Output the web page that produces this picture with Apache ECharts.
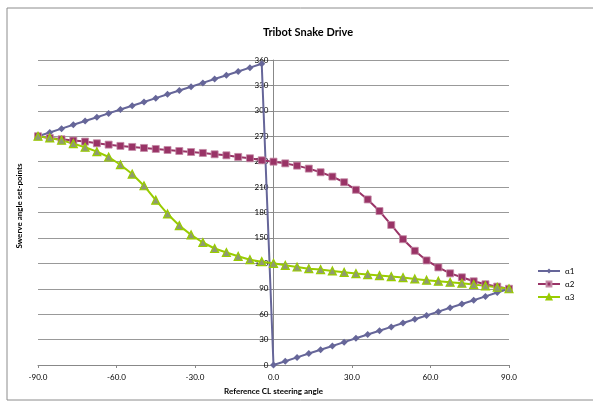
<!DOCTYPE html>
<html>
<head>
<meta charset="utf-8">
<script src="https://cdn.jsdelivr.net/npm/echarts@6/dist/echarts.min.js"></script>
<style>html,body{margin:0;padding:0;background:#fff;}#c{width:593px;height:404px;}</style>
</head>
<body>
<div id="c"></div>
<script>
var xs = [-90,-85.5,-81,-76.5,-72,-67.5,-63,-58.5,-54,-49.5,-45,-40.5,-36,-31.5,-27,-22.5,-18,-13.5,-9,-4.5,0,4.5,9,13.5,18,22.5,27,31.5,36,40.5,45,49.5,54,58.5,63,67.5,72,76.5,81,85.5,90];
var alpha1 = [270,274.5,279,283.5,288,292.5,297,301.5,306,310.5,315,319.5,324,328.5,333,337.5,342,346.5,351,355.5,0,4.5,9,13.5,18,22.5,27,31.5,36,40.5,45,49.5,54,58.5,63,67.5,72,76.5,81,85.5,90];
var alpha2 = [270,268,266.4,264.9,263.7,261.7,260.1,258.6,257.4,256.2,255,253.8,252.6,251.4,250.3,248.7,247.5,245.6,244,241.6,240,238,235.3,231.8,227.5,222.4,215.7,206.8,195.4,181.7,165.3,148.5,134.8,123.4,115.2,108.2,103.5,98.8,95.3,92.5,90];
var alpha3 = [270,268,265.3,261.3,257,251.8,245.5,236.4,225.4,211.6,194.6,178.3,164.6,153.6,144.6,137.5,132.8,128.3,124.3,122,120,117.7,115.7,113.7,112.6,111,109.4,107.9,106.7,105.5,104.4,103.2,101.6,100.1,98.9,97.7,96.5,95,93.4,91.8,90];
var seriesNames = ['α1','α2','α3'];
var title = 'Tribot Snake Drive';
var xName = 'Reference CL steering angle';
var yName = 'Swerve angle set-points';

function pairs(v){ return xs.map(function(x,i){ return [x, v[i]]; }); }
var font = 'Lato, "Open Sans", sans-serif';
var chart = echarts.init(document.getElementById('c'));
chart.setOption({
  animation: false,
  backgroundColor: '#fff',
  title: { text: title, left: 303, top: 22, textAlign: 'center',
    textStyle: { fontFamily: font, fontSize: 11, fontWeight: 'bold', color: '#000' } },
  graphic: [
    { type: 'rect', shape: { x: 7, y: 8, width: 620, height: 392 },
      style: { fill: 'none', stroke: '#8c8c8c', lineWidth: 1 }, silent: true },
    { type: 'text', x: 19, y: 206, rotation: Math.PI/2,
      style: { text: yName, fill: '#000', font: 'bold 8px ' + font, textAlign: 'center', textVerticalAlign: 'middle' } }
  ],
  legend: {
    orient: 'vertical', left: 532, top: 262, itemWidth: 22, itemHeight: 6, itemGap: 5,
    textStyle: { fontFamily: font, fontSize: 8, color: '#000' },
    data: seriesNames
  },
  grid: { left: 38, right: 84, top: 60, bottom: 39 },
  xAxis: {
    type: 'value', min: -90, max: 90, interval: 30,
    name: xName, nameLocation: 'middle', nameGap: 22,
    nameTextStyle: { fontFamily: font, fontSize: 8, fontWeight: 'bold', color: '#000' },
    axisLine: { onZero: false, lineStyle: { color: '#888', width: 1 } },
    axisTick: { show: true, length: 3, lineStyle: { color: '#888' } },
    axisLabel: { fontFamily: font, fontSize: 8, color: '#000', margin: 8,
      formatter: function(v){ return v.toFixed(1); } },
    splitLine: { show: false }
  },
  yAxis: {
    type: 'value', min: 0, max: 360, interval: 30, position: 'left', offset: -235.5,
    axisLine: { onZero: false, lineStyle: { color: '#888', width: 1 } },
    axisTick: { show: true, length: 3, lineStyle: { color: '#888' } },
    axisLabel: { fontFamily: font, fontSize: 8, color: '#000', margin: 5 },
    splitLine: { show: true, lineStyle: { color: '#999', width: 1 } }
  },
  series: [
    { name: seriesNames[0], type: 'line', data: pairs(alpha1), symbol: 'diamond', symbolSize: 7,
      lineStyle: { color: '#666699', width: 2 }, itemStyle: { color: '#666699' } },
    { name: seriesNames[1], type: 'line', data: pairs(alpha2), symbol: 'rect', symbolSize: 7,
      lineStyle: { color: '#993366', width: 2 }, itemStyle: { color: '#993366', borderColor: '#c48aa6', borderWidth: 0.8 } },
    { name: seriesNames[2], type: 'line', data: pairs(alpha3), symbol: 'triangle', symbolSize: 8,
      lineStyle: { color: '#99CC00', width: 2 }, itemStyle: { color: '#8f9a72', borderColor: '#99CC00', borderWidth: 1.2 } }
  ]
});
</script>
</body>
</html>
